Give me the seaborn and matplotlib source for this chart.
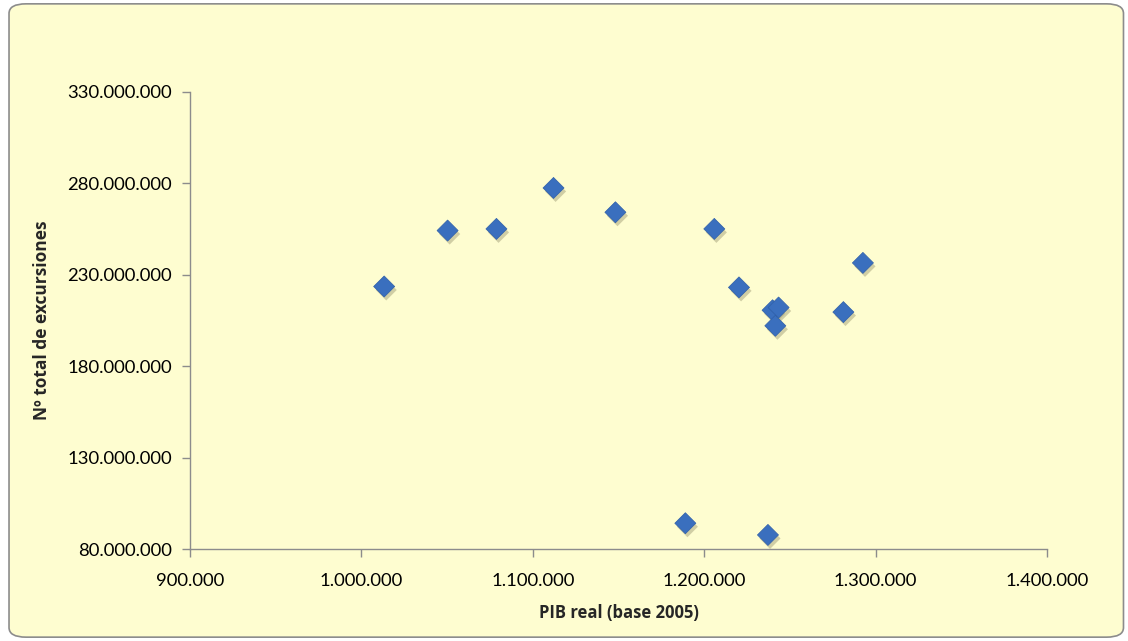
#!/usr/bin/env python3
"""Scatter: PIB real vs Nº total de excursiones."""

import matplotlib.pyplot as plt
import pandas as pd
import seaborn as sns
from matplotlib import patheffects
from matplotlib.patches import FancyBboxPatch
from matplotlib.ticker import FuncFormatter

pib_real = [
    1013300, 1050300, 1078800, 1112100, 1148200, 1205900, 1220300,
    1239900, 1243400, 1241500, 1281200, 1292600, 1189000, 1237200,
]
excursiones = [
    223.6e6, 254.2e6, 255.1e6, 277.5e6, 264.2e6, 255.1e6, 223.1e6,
    210.6e6, 212.1e6, 202.1e6, 209.6e6, 236.5e6, 94.1e6, 87.7e6,
]
x_ticks = [900000, 1000000, 1100000, 1200000, 1300000, 1400000]
y_ticks = [80e6, 130e6, 180e6, 230e6, 280e6, 330e6]
x_label = "PIB real (base 2005)"
y_label = "Nº total de excursiones"

BG = "#fefdd0"
sns.set_theme(style="white")
plt.rcParams["font.family"] = ["Lato", "DejaVu Sans"]


def dotted(v, _pos):
    return f"{int(round(v)):,}".replace(",", ".")


def main():
    data = pd.DataFrame({"pib": pib_real, "exc": excursiones})
    fig = plt.figure(figsize=(11.28, 6.41), dpi=100)
    fig.patch.set_facecolor("white")
    fig.add_artist(
        FancyBboxPatch(
            (0.008, 0.006), 0.988, 0.988,
            boxstyle="round,pad=0,rounding_size=0.015",
            transform=fig.transFigure, facecolor=BG,
            edgecolor="#8c8c8c", linewidth=1.2, zorder=-5,
        )
    )
    ax = fig.add_axes([0.1684, 0.1435, 0.7598, 0.713])
    ax.set_zorder(2)
    ax.set_facecolor(BG)
    sns.scatterplot(
        data=data, x="pib", y="exc", ax=ax, marker="D", s=115,
        color="#3a6fbe", edgecolor="#2f5fa8", linewidth=0.5, zorder=3,
    )
    for coll in ax.collections:
        coll.set_path_effects([
            patheffects.SimplePatchShadow(offset=(1.5, -2.5), shadow_rgbFace="#9a9670", alpha=0.45),
            patheffects.Normal(),
        ])

    ax.set_xlim(x_ticks[0], x_ticks[-1])
    ax.set_ylim(y_ticks[0], y_ticks[-1])
    ax.set_xticks(x_ticks)
    ax.set_yticks(y_ticks)
    ax.xaxis.set_major_formatter(FuncFormatter(dotted))
    ax.yaxis.set_major_formatter(FuncFormatter(dotted))
    for side in ("top", "right"):
        ax.spines[side].set_visible(False)
    for side in ("left", "bottom"):
        ax.spines[side].set_color("#8c8c8c")
        ax.spines[side].set_linewidth(1.0)
    ax.tick_params(axis="both", which="major", length=6, width=1.0, color="#8c8c8c",
                   labelsize=13.3, labelcolor="black", direction="out",
                   bottom=True, left=True)
    ax.tick_params(axis="x", pad=11)
    ax.tick_params(axis="y", pad=7)
    ax.set_xlabel(x_label, fontsize=12, fontweight="bold", family=["Open Sans", "DejaVu Sans"], labelpad=11)
    ax.set_ylabel(y_label, fontsize=12.5, fontweight="bold", family=["Open Sans", "DejaVu Sans"], labelpad=12)
    ax.grid(False)
    fig.savefig("out.png", dpi=100, facecolor="white")
    plt.close(fig)


if __name__ == "__main__":
    main()
